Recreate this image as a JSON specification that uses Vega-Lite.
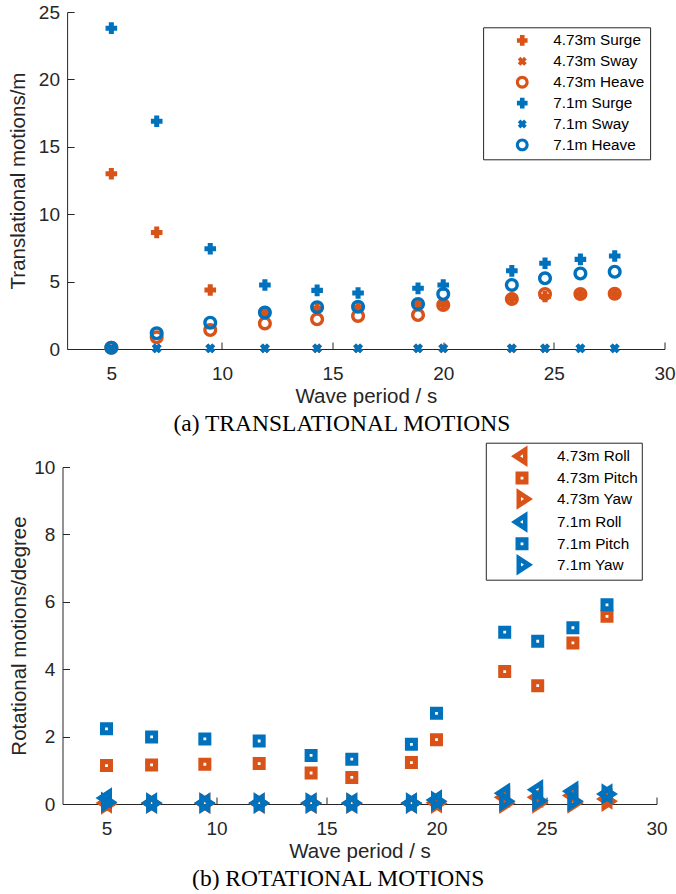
{
  "$schema": "https://vega.github.io/schema/vega-lite/v6.json",
  "background": "white",
  "padding": {"left": 8.5, "top": 3, "right": 0, "bottom": 0},
  "columns": 1,
  "align": "none",
  "spacing": 7,
  "resolve": {
    "scale": {"color": "independent", "shape": "independent"},
    "legend": {"color": "independent", "shape": "independent"}
  },
  "config": {
    "font": "Liberation Sans",
    "view": {"stroke": null},
    "axis": {
      "domainColor": "#262626", "tickColor": "#262626", "labelColor": "#262626", "titleColor": "#262626",
      "labelFont": "Liberation Sans", "titleFont": "Liberation Sans",
      "labelFontSize": 19, "titleFontSize": 20.5, "titleFontWeight": "normal",
      "tickSize": -7, "grid": false, "domainWidth": 1, "tickWidth": 1, "labelFlush": false, "labelOverlap": false
    },
    "axisX": {"labelPadding": 22, "titlePadding": 3},
    "axisY": {"labelPadding": 14.6},
    "legend": {"labelFont": "Liberation Sans", "labelColor": "#000000", "labelFontSize": 15.3, "symbolStrokeWidth": 0, "strokeColor": "#262626", "fillColor": "#ffffff"}
  },
  "concat": [
    {
      "width": 602,
      "height": 337,
      "title": {"text": "(a) TRANSLATIONAL MOTIONS", "orient": "bottom", "anchor": "middle", "frame": "bounds", "font": "Liberation Serif", "fontSize": 23.5, "fontWeight": "normal", "color": "#000000", "offset": 5},
      "data": {"values": [
        {"period": 5, "value": 13.0, "series": "4.73m Surge"},
        {"period": 7.05, "value": 8.65, "series": "4.73m Surge"},
        {"period": 9.47, "value": 4.38, "series": "4.73m Surge"},
        {"period": 11.94, "value": 2.7, "series": "4.73m Surge"},
        {"period": 14.3, "value": 3.0, "series": "4.73m Surge"},
        {"period": 16.15, "value": 3.1, "series": "4.73m Surge"},
        {"period": 18.86, "value": 3.35, "series": "4.73m Surge"},
        {"period": 20, "value": 3.3, "series": "4.73m Surge"},
        {"period": 23.1, "value": 3.75, "series": "4.73m Surge"},
        {"period": 24.6, "value": 3.9, "series": "4.73m Surge"},
        {"period": 26.2, "value": 4.08, "series": "4.73m Surge"},
        {"period": 27.75, "value": 4.1, "series": "4.73m Surge"},
        {"period": 5, "value": 0.05, "series": "4.73m Sway"},
        {"period": 7.05, "value": 0.05, "series": "4.73m Sway"},
        {"period": 9.47, "value": 0.05, "series": "4.73m Sway"},
        {"period": 11.94, "value": 0.05, "series": "4.73m Sway"},
        {"period": 14.3, "value": 0.05, "series": "4.73m Sway"},
        {"period": 16.15, "value": 0.05, "series": "4.73m Sway"},
        {"period": 18.86, "value": 0.05, "series": "4.73m Sway"},
        {"period": 20, "value": 0.05, "series": "4.73m Sway"},
        {"period": 23.1, "value": 0.05, "series": "4.73m Sway"},
        {"period": 24.6, "value": 0.05, "series": "4.73m Sway"},
        {"period": 26.2, "value": 0.05, "series": "4.73m Sway"},
        {"period": 27.75, "value": 0.05, "series": "4.73m Sway"},
        {"period": 5, "value": 0.1, "series": "4.73m Heave"},
        {"period": 7.05, "value": 0.87, "series": "4.73m Heave"},
        {"period": 9.47, "value": 1.41, "series": "4.73m Heave"},
        {"period": 11.94, "value": 1.9, "series": "4.73m Heave"},
        {"period": 14.3, "value": 2.2, "series": "4.73m Heave"},
        {"period": 16.15, "value": 2.45, "series": "4.73m Heave"},
        {"period": 18.86, "value": 2.52, "series": "4.73m Heave"},
        {"period": 20, "value": 3.26, "series": "4.73m Heave"},
        {"period": 23.1, "value": 3.7, "series": "4.73m Heave"},
        {"period": 24.6, "value": 4.08, "series": "4.73m Heave"},
        {"period": 26.2, "value": 4.08, "series": "4.73m Heave"},
        {"period": 27.75, "value": 4.1, "series": "4.73m Heave"},
        {"period": 5, "value": 23.8, "series": "7.1m Surge"},
        {"period": 7.05, "value": 16.9, "series": "7.1m Surge"},
        {"period": 9.47, "value": 7.44, "series": "7.1m Surge"},
        {"period": 11.94, "value": 4.75, "series": "7.1m Surge"},
        {"period": 14.3, "value": 4.35, "series": "7.1m Surge"},
        {"period": 16.15, "value": 4.15, "series": "7.1m Surge"},
        {"period": 18.86, "value": 4.5, "series": "7.1m Surge"},
        {"period": 20, "value": 4.75, "series": "7.1m Surge"},
        {"period": 23.1, "value": 5.8, "series": "7.1m Surge"},
        {"period": 24.6, "value": 6.36, "series": "7.1m Surge"},
        {"period": 26.2, "value": 6.65, "series": "7.1m Surge"},
        {"period": 27.75, "value": 6.9, "series": "7.1m Surge"},
        {"period": 5, "value": 0.05, "series": "7.1m Sway"},
        {"period": 7.05, "value": 0.05, "series": "7.1m Sway"},
        {"period": 9.47, "value": 0.05, "series": "7.1m Sway"},
        {"period": 11.94, "value": 0.05, "series": "7.1m Sway"},
        {"period": 14.3, "value": 0.05, "series": "7.1m Sway"},
        {"period": 16.15, "value": 0.05, "series": "7.1m Sway"},
        {"period": 18.86, "value": 0.05, "series": "7.1m Sway"},
        {"period": 20, "value": 0.05, "series": "7.1m Sway"},
        {"period": 23.1, "value": 0.05, "series": "7.1m Sway"},
        {"period": 24.6, "value": 0.05, "series": "7.1m Sway"},
        {"period": 26.2, "value": 0.05, "series": "7.1m Sway"},
        {"period": 27.75, "value": 0.05, "series": "7.1m Sway"},
        {"period": 5, "value": 0.1, "series": "7.1m Heave"},
        {"period": 7.05, "value": 1.16, "series": "7.1m Heave"},
        {"period": 9.47, "value": 1.95, "series": "7.1m Heave"},
        {"period": 11.94, "value": 2.7, "series": "7.1m Heave"},
        {"period": 14.3, "value": 3.1, "series": "7.1m Heave"},
        {"period": 16.15, "value": 3.14, "series": "7.1m Heave"},
        {"period": 18.86, "value": 3.34, "series": "7.1m Heave"},
        {"period": 20, "value": 4.08, "series": "7.1m Heave"},
        {"period": 23.1, "value": 4.75, "series": "7.1m Heave"},
        {"period": 24.6, "value": 5.24, "series": "7.1m Heave"},
        {"period": 26.2, "value": 5.6, "series": "7.1m Heave"},
        {"period": 27.75, "value": 5.73, "series": "7.1m Heave"}
      ]},
      "mark": {"type": "point", "filled": true, "size": 196, "opacity": 1, "clip": false},
      "encoding": {
        "x": {"field": "period", "type": "quantitative", "scale": {"domain": [3, 30], "range": [4.6, 602], "nice": false, "zero": false}, "axis": {"title": "Wave period / s", "values": [5, 10, 15, 20, 25, 30]}},
        "y": {"field": "value", "type": "quantitative", "scale": {"domain": [0, 25], "nice": false}, "axis": {"title": "Translational motions/m", "values": [0, 5, 10, 15, 20, 25], "offset": -4.6, "titlePadding": 9.7}},
        "color": {
          "field": "series", "type": "nominal",
          "scale": {"domain": ["4.73m Surge", "4.73m Sway", "4.73m Heave", "7.1m Surge", "7.1m Sway", "7.1m Heave"], "range": ["#D95319", "#D95319", "#D95319", "#0072BD", "#0072BD", "#0072BD"]},
          "legend": {"title": null, "orient": "none", "legendX": 420.6, "legendY": 15.3, "symbolSize": 165, "symbolOffset": 26, "labelOffset": 23.4, "padding": 5.5, "rowPadding": 4.9}
        },
        "shape": {
          "field": "series", "type": "nominal",
          "scale": {"domain": ["4.73m Surge", "4.73m Sway", "4.73m Heave", "7.1m Surge", "7.1m Sway", "7.1m Heave"], "range": [
            "M-0.83,-0.36L-0.36,-0.36L-0.36,-0.83L0.36,-0.83L0.36,-0.36L0.83,-0.36L0.83,0.36L0.36,0.36L0.36,0.83L-0.36,0.83L-0.36,0.36L-0.83,0.36Z",
            "M-0.7,-0.28L-0.28,-0.7L0,-0.42L0.28,-0.7L0.7,-0.28L0.42,0L0.7,0.28L0.28,0.7L0,0.42L-0.28,0.7L-0.7,0.28L-0.42,0Z",
            "M-1,0A1,1,0,1,1,1,0A1,1,0,1,1,-1,0ZM-0.52,0A0.52,0.52,0,1,0,0.52,0A0.52,0.52,0,1,0,-0.52,0Z",
            "M-0.83,-0.36L-0.36,-0.36L-0.36,-0.83L0.36,-0.83L0.36,-0.36L0.83,-0.36L0.83,0.36L0.36,0.36L0.36,0.83L-0.36,0.83L-0.36,0.36L-0.83,0.36Z",
            "M-0.7,-0.28L-0.28,-0.7L0,-0.42L0.28,-0.7L0.7,-0.28L0.42,0L0.7,0.28L0.28,0.7L0,0.42L-0.28,0.7L-0.7,0.28L-0.42,0Z",
            "M-1,0A1,1,0,1,1,1,0A1,1,0,1,1,-1,0ZM-0.52,0A0.52,0.52,0,1,0,0.52,0A0.52,0.52,0,1,0,-0.52,0Z"
          ]},
          "legend": {"title": null, "orient": "none", "legendX": 420.6, "legendY": 15.3, "symbolSize": 165, "symbolOffset": 26, "labelOffset": 23.4, "padding": 5.5, "rowPadding": 4.9}
        }
      }
    },
    {
      "width": 594,
      "height": 337,
      "title": {"text": "(b) ROTATIONAL MOTIONS", "orient": "bottom", "anchor": "middle", "frame": "bounds", "font": "Liberation Serif", "fontSize": 23.5, "fontWeight": "normal", "color": "#000000", "offset": 5},
      "data": {"values": [
        {"period": 5, "value": 0.03, "series": "4.73m Roll"},
        {"period": 7.05, "value": 0.02, "series": "4.73m Roll"},
        {"period": 9.47, "value": 0.02, "series": "4.73m Roll"},
        {"period": 11.94, "value": 0.02, "series": "4.73m Roll"},
        {"period": 14.3, "value": 0.02, "series": "4.73m Roll"},
        {"period": 16.15, "value": 0.02, "series": "4.73m Roll"},
        {"period": 18.86, "value": 0.02, "series": "4.73m Roll"},
        {"period": 20, "value": 0.04, "series": "4.73m Roll"},
        {"period": 23.1, "value": 0.2, "series": "4.73m Roll"},
        {"period": 24.6, "value": 0.2, "series": "4.73m Roll"},
        {"period": 26.2, "value": 0.25, "series": "4.73m Roll"},
        {"period": 27.75, "value": 0.15, "series": "4.73m Roll"},
        {"period": 5, "value": 1.14, "series": "4.73m Pitch"},
        {"period": 7.05, "value": 1.16, "series": "4.73m Pitch"},
        {"period": 9.47, "value": 1.18, "series": "4.73m Pitch"},
        {"period": 11.94, "value": 1.2, "series": "4.73m Pitch"},
        {"period": 14.3, "value": 0.92, "series": "4.73m Pitch"},
        {"period": 16.15, "value": 0.79, "series": "4.73m Pitch"},
        {"period": 18.86, "value": 1.23, "series": "4.73m Pitch"},
        {"period": 20, "value": 1.91, "series": "4.73m Pitch"},
        {"period": 23.1, "value": 3.93, "series": "4.73m Pitch"},
        {"period": 24.6, "value": 3.51, "series": "4.73m Pitch"},
        {"period": 26.2, "value": 4.78, "series": "4.73m Pitch"},
        {"period": 27.75, "value": 5.57, "series": "4.73m Pitch"},
        {"period": 5, "value": 0.0, "series": "4.73m Yaw"},
        {"period": 7.05, "value": 0.02, "series": "4.73m Yaw"},
        {"period": 9.47, "value": 0.02, "series": "4.73m Yaw"},
        {"period": 11.94, "value": 0.02, "series": "4.73m Yaw"},
        {"period": 14.3, "value": 0.02, "series": "4.73m Yaw"},
        {"period": 16.15, "value": 0.02, "series": "4.73m Yaw"},
        {"period": 18.86, "value": 0.02, "series": "4.73m Yaw"},
        {"period": 20, "value": 0.02, "series": "4.73m Yaw"},
        {"period": 23.1, "value": 0.02, "series": "4.73m Yaw"},
        {"period": 24.6, "value": 0.03, "series": "4.73m Yaw"},
        {"period": 26.2, "value": 0.03, "series": "4.73m Yaw"},
        {"period": 27.75, "value": 0.08, "series": "4.73m Yaw"},
        {"period": 5, "value": 0.18, "series": "7.1m Roll"},
        {"period": 7.05, "value": 0.03, "series": "7.1m Roll"},
        {"period": 9.47, "value": 0.03, "series": "7.1m Roll"},
        {"period": 11.94, "value": 0.03, "series": "7.1m Roll"},
        {"period": 14.3, "value": 0.03, "series": "7.1m Roll"},
        {"period": 16.15, "value": 0.03, "series": "7.1m Roll"},
        {"period": 18.86, "value": 0.03, "series": "7.1m Roll"},
        {"period": 20, "value": 0.12, "series": "7.1m Roll"},
        {"period": 23.1, "value": 0.32, "series": "7.1m Roll"},
        {"period": 24.6, "value": 0.42, "series": "7.1m Roll"},
        {"period": 26.2, "value": 0.38, "series": "7.1m Roll"},
        {"period": 27.75, "value": 0.3, "series": "7.1m Roll"},
        {"period": 5, "value": 2.23, "series": "7.1m Pitch"},
        {"period": 7.05, "value": 1.99, "series": "7.1m Pitch"},
        {"period": 9.47, "value": 1.93, "series": "7.1m Pitch"},
        {"period": 11.94, "value": 1.87, "series": "7.1m Pitch"},
        {"period": 14.3, "value": 1.44, "series": "7.1m Pitch"},
        {"period": 16.15, "value": 1.33, "series": "7.1m Pitch"},
        {"period": 18.86, "value": 1.77, "series": "7.1m Pitch"},
        {"period": 20, "value": 2.69, "series": "7.1m Pitch"},
        {"period": 23.1, "value": 5.1, "series": "7.1m Pitch"},
        {"period": 24.6, "value": 4.83, "series": "7.1m Pitch"},
        {"period": 26.2, "value": 5.23, "series": "7.1m Pitch"},
        {"period": 27.75, "value": 5.91, "series": "7.1m Pitch"},
        {"period": 5, "value": 0.05, "series": "7.1m Yaw"},
        {"period": 7.05, "value": 0.03, "series": "7.1m Yaw"},
        {"period": 9.47, "value": 0.03, "series": "7.1m Yaw"},
        {"period": 11.94, "value": 0.03, "series": "7.1m Yaw"},
        {"period": 14.3, "value": 0.03, "series": "7.1m Yaw"},
        {"period": 16.15, "value": 0.03, "series": "7.1m Yaw"},
        {"period": 18.86, "value": 0.03, "series": "7.1m Yaw"},
        {"period": 20, "value": 0.08, "series": "7.1m Yaw"},
        {"period": 23.1, "value": 0.08, "series": "7.1m Yaw"},
        {"period": 24.6, "value": 0.1, "series": "7.1m Yaw"},
        {"period": 26.2, "value": 0.08, "series": "7.1m Yaw"},
        {"period": 27.75, "value": 0.3, "series": "7.1m Yaw"}
      ]},
      "mark": {"type": "point", "filled": true, "size": 400, "opacity": 1, "clip": false},
      "encoding": {
        "x": {"field": "period", "type": "quantitative", "scale": {"domain": [3, 30], "nice": false, "zero": false}, "axis": {"title": "Wave period / s", "values": [5, 10, 15, 20, 25, 30]}},
        "y": {"field": "value", "type": "quantitative", "scale": {"domain": [0, 10], "nice": false}, "axis": {"title": "Rotational motions/degree", "values": [0, 2, 4, 6, 8, 10], "titlePadding": 4.4}},
        "color": {
          "field": "series", "type": "nominal",
          "scale": {"domain": ["4.73m Roll", "4.73m Pitch", "4.73m Yaw", "7.1m Roll", "7.1m Pitch", "7.1m Yaw"], "range": ["#D95319", "#D95319", "#D95319", "#0072BD", "#0072BD", "#0072BD"]},
          "legend": {"title": null, "orient": "none", "legendX": 423.3, "legendY": -24.3, "symbolSize": 400, "symbolOffset": 22.7, "labelOffset": 24.9, "padding": 3.5, "rowPadding": 0.9}
        },
        "shape": {
          "field": "series", "type": "nominal",
          "scale": {"domain": ["4.73m Roll", "4.73m Pitch", "4.73m Yaw", "7.1m Roll", "7.1m Pitch", "7.1m Yaw"], "range": [
            "M-1.1,0L0.55,-1.075L0.55,1.075ZM-0.2,0L0.1,0.19L0.1,-0.19Z",
            "M-0.65,-0.65L0.65,-0.65L0.65,0.65L-0.65,0.65ZM-0.14,-0.14L-0.14,0.14L0.14,0.14L0.14,-0.14Z",
            "M1.1,0L-0.55,-1.075L-0.55,1.075ZM0.2,0L-0.1,0.19L-0.1,-0.19Z",
            "M-1.1,0L0.55,-1.075L0.55,1.075ZM-0.2,0L0.1,0.19L0.1,-0.19Z",
            "M-0.65,-0.65L0.65,-0.65L0.65,0.65L-0.65,0.65ZM-0.14,-0.14L-0.14,0.14L0.14,0.14L0.14,-0.14Z",
            "M1.1,0L-0.55,-1.075L-0.55,1.075ZM0.2,0L-0.1,0.19L-0.1,-0.19Z"
          ]},
          "legend": {"title": null, "orient": "none", "legendX": 423.3, "legendY": -24.3, "symbolSize": 400, "symbolOffset": 22.7, "labelOffset": 24.9, "padding": 3.5, "rowPadding": 0.9}
        }
      }
    }
  ]
}
